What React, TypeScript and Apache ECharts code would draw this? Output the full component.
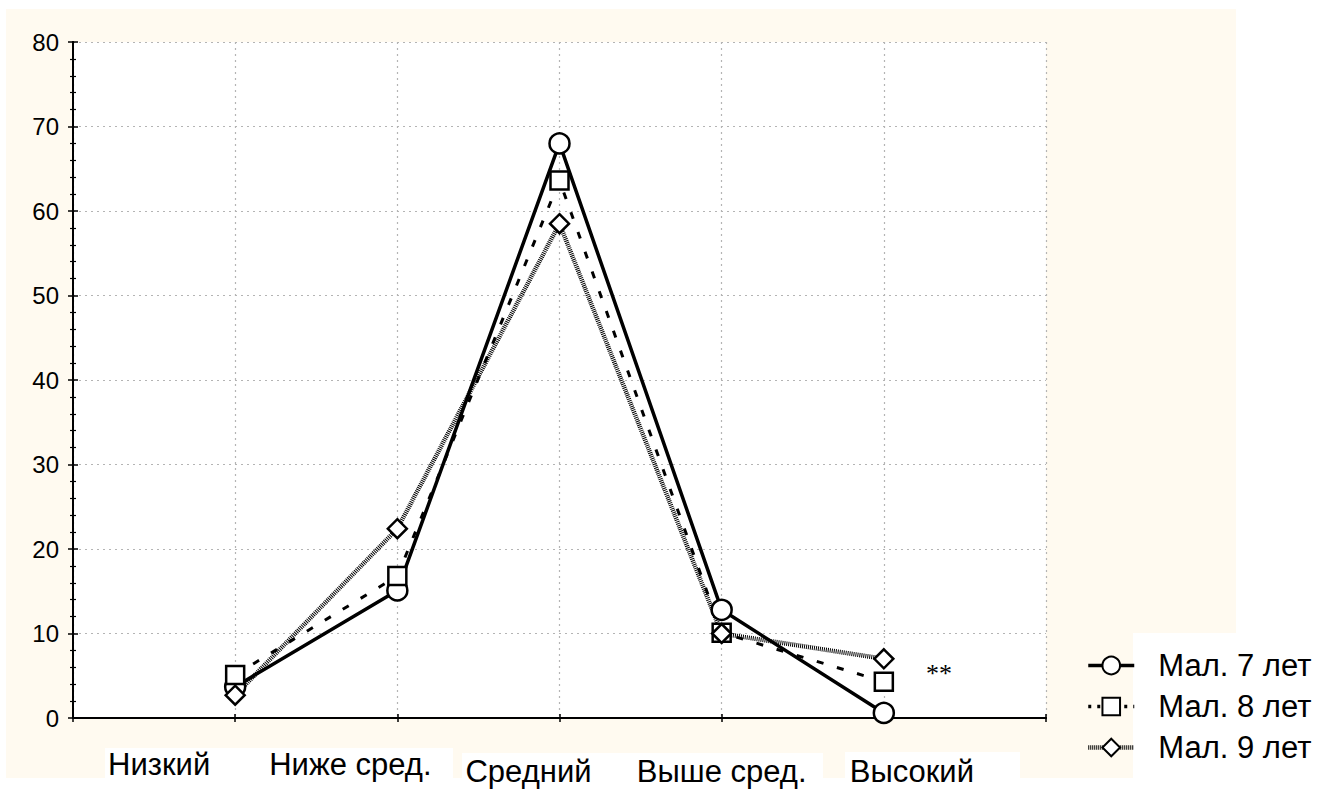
import React, { useEffect, useRef } from "react";
import * as echarts from "echarts";

const categories = ["Низкий", "Ниже сред.", "Средний", "Выше сред.", "Высокий"];
const seriesNames = ["Мал. 7 лет", "Мал. 8 лет", "Мал. 9 лет"];
const age7 = [3.7, 15.1, 68.0, 12.8, 0.6];
const age8 = [5.1, 16.8, 63.6, 10.1, 4.3];
const age9 = [2.7, 22.4, 58.5, 10.0, 7.0];
const yTicks = [0, 10, 20, 30, 40, 50, 60, 70, 80];

const FONT = 'Arial, "Liberation Sans", sans-serif';

function toPoints(vals: number[]) {
  return vals.map((v, i) => [i + 1, v]);
}

export default function App() {
  const ref = useRef<HTMLDivElement>(null);
  useEffect(() => {
    document.body.style.margin = "0";
    if (!ref.current) return;
    const chart = echarts.init(ref.current, undefined, { renderer: "svg" });
    const symStyle = { color: "#fff", borderColor: "#000", borderWidth: 2.5 };
    const labelPads: Record<string, number[]> = {
      c0: [0, 152, 0, 0],
      c1: [0, 94, 0, 0],
      c2: [7, 62, 0, 0],
      c3: [7, 0, 0, 0],
      c4: [7, 0, 0, 56],
    };
    const rich: any = {};
    Object.keys(labelPads).forEach((k) => {
      rich[k] = { fontSize: 31, fontFamily: FONT, color: "#000", padding: labelPads[k] };
    });
    const p8 = toPoints(age8);
    const lineStyles: any[] = [
      { color: "#000", width: 3.5, type: "solid" },
      { color: "#000", width: 3, type: [7, 14] },
      { color: "#000", width: 4.5, type: [1, 1] },
    ];
    const legendLineStyles: any[] = [
      { color: "#000", width: 3.5, type: "solid" },
      { color: "#000", width: 3.5, type: [3, 6] },
      { color: "#000", width: 4.5, type: [1, 1] },
    ];
    const option: any = {
      animation: false,
      backgroundColor: "#fff",
      graphic: [
        { type: "rect", z: -10, shape: { x: 6, y: 9, width: 1230, height: 769 }, style: { fill: "#FFFAF0" } },
        { type: "rect", z: -9, shape: { x: 105, y: 748, width: 348, height: 41 }, style: { fill: "#fff" } },
        { type: "rect", z: -9, shape: { x: 462, y: 753, width: 361, height: 36 }, style: { fill: "#fff" } },
        { type: "rect", z: -9, shape: { x: 845, y: 752, width: 175, height: 37 }, style: { fill: "#fff" } },
        { type: "rect", z: -9, shape: { x: 1133, y: 633, width: 184, height: 156 }, style: { fill: "#fff" } },
      ],
      grid: {
        left: 73,
        top: 42,
        width: 973,
        height: 676,
        show: true,
        backgroundColor: "#fff",
        borderWidth: 0,
      },
      legend: {
        orient: "vertical",
        left: 1081,
        top: 645,
        itemWidth: 46,
        itemHeight: 22,
        itemGap: 10,
        textStyle: { fontSize: 31, fontFamily: FONT, color: "#000", padding: [0, 0, 0, 19] },
        data: seriesNames.map((n, i) => ({ name: n, lineStyle: legendLineStyles[i] })),
      },
      xAxis: [
        {
          type: "value",
          min: 0,
          max: 6,
          interval: 1,
          position: "bottom",
          axisLine: { show: true, lineStyle: { color: "#000", width: 2 } },
          axisTick: { show: true, inside: true, length: 4, lineStyle: { color: "#000", width: 1.5 } },
          splitLine: { show: true, lineStyle: { color: "#b4b4b4", type: [2, 4], width: 1.2 } },
          axisLabel: {
            margin: 31,
            formatter: (v: number) => {
              const i = Math.round(v) - 1;
              if (i < 0 || i >= categories.length) return "";
              return `{c${i}|${categories[i]}}`;
            },
            rich,
          },
        },
        {
          type: "value",
          min: 0,
          max: 6,
          interval: 1,
          position: "top",
          axisLine: { show: true, lineStyle: { color: "#000", width: 2 } },
          axisTick: { show: true, inside: true, length: 4, lineStyle: { color: "#000", width: 1.5 } },
          splitLine: { show: false },
          axisLabel: { show: false },
        },
      ],
      yAxis: [
        {
          type: "value",
          min: yTicks[0],
          max: yTicks[yTicks.length - 1],
          interval: 10,
          position: "left",
          axisLine: { show: true, lineStyle: { color: "#000", width: 2 } },
          axisTick: { show: true, inside: true, length: 5, lineStyle: { color: "#000", width: 1.5 } },
          minorTick: { show: true, splitNumber: 5, length: 3, lineStyle: { color: "#000", width: 1.2 } },
          splitLine: { show: true, lineStyle: { color: "#b4b4b4", type: [2, 4], width: 1.2 } },
          axisLabel: { fontSize: 24, fontFamily: FONT, color: "#000", margin: 14 },
        },
        {
          type: "value",
          min: yTicks[0],
          max: yTicks[yTicks.length - 1],
          interval: 10,
          position: "right",
          axisLine: { show: true, lineStyle: { color: "#000", width: 2 } },
          axisTick: { show: true, inside: true, length: 5, lineStyle: { color: "#000", width: 1.5 } },
          minorTick: { show: true, splitNumber: 5, length: 3, lineStyle: { color: "#000", width: 1.2 } },
          splitLine: { show: false },
          axisLabel: { show: false },
        },
      ],
      series: [
        {
          name: seriesNames[0],
          type: "line",
          data: toPoints(age7),
          symbol: "circle",
          symbolSize: 20,
          color: "#000",
          lineStyle: lineStyles[0],
          itemStyle: symStyle,
        },
        {
          name: seriesNames[1],
          type: "line",
          data: p8.map((p, i) =>
            i === p8.length - 1
              ? {
                  value: p,
                  label: {
                    show: true,
                    formatter: "**",
                    position: "right",
                    distance: 32,
                    offset: [0, -8],
                    fontSize: 26,
                    fontFamily: '"Liberation Serif", "Times New Roman", serif',
                    color: "#000",
                  },
                }
              : p
          ),
          symbol: "rect",
          symbolSize: 18,
          color: "#000",
          lineStyle: lineStyles[1],
          itemStyle: symStyle,
        },
        {
          name: seriesNames[2],
          type: "line",
          data: toPoints(age9),
          symbol: "diamond",
          symbolSize: 19,
          color: "#000",
          lineStyle: lineStyles[2],
          itemStyle: symStyle,
        },
      ],
    };
    chart.setOption(option);
    return () => chart.dispose();
  }, []);
  return (
    <div
      ref={ref}
      style={{ position: "absolute", left: 0, top: 0, width: 1317, height: 789 }}
    />
  );
}
